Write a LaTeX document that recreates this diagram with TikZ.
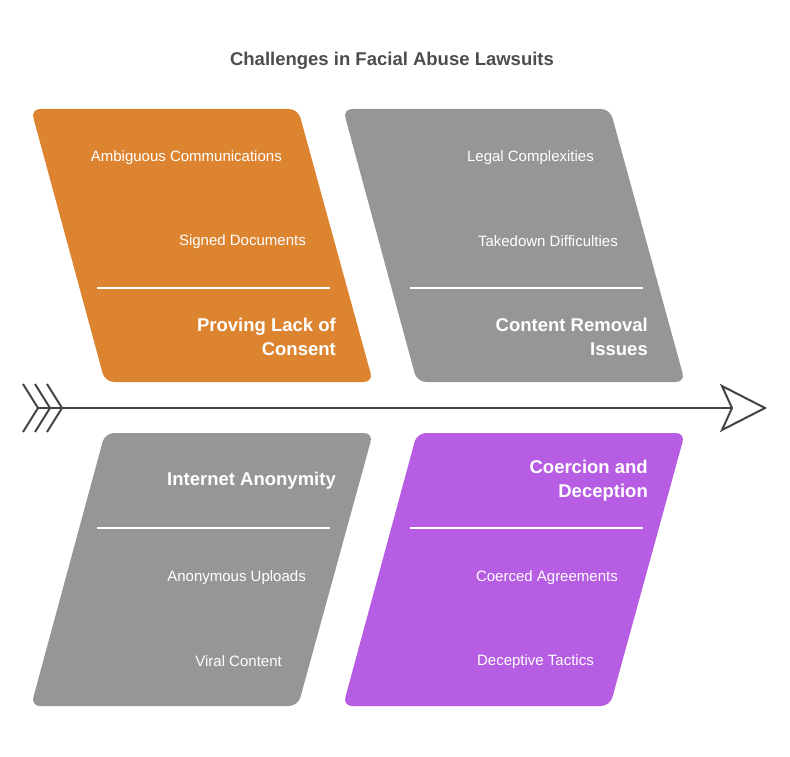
\documentclass[tikz,border=0pt]{standalone}
\usepackage{fontspec}
\setmainfont{Liberation Sans}
\definecolor{consent}{HTML}{DD8431}
\definecolor{removal}{HTML}{969696}
\definecolor{coercion}{HTML}{B75DE3}
\definecolor{axis}{HTML}{444444}
\begin{document}
\begin{tikzpicture}[x=1pt,y=-1pt,
    card/.style={rounded corners=9pt},
    cause/.style={font=\fontsize{15}{18}\selectfont, text=white, anchor=east, inner sep=0pt},
    head/.style={font=\bfseries\fontsize{18.5}{24}\selectfont, text=white, anchor=east, align=right, inner sep=0pt},
    rule/.style={draw=white, line width=1.3pt}]
    \useasboundingbox (0,0) rectangle (790,757);
    \node[font=\bfseries\fontsize{18.5}{22}\selectfont, text=axis!95] (title) at (392,61) {Challenges in Facial Abuse Lawsuits};

    % upper cards
    \fill[consent, card] (31,109) -- (298,109) -- (373,382) -- (105,382) -- cycle;
    \fill[removal, card] (343,109) -- (610,109) -- (685,382) -- (417,382) -- cycle;
    % lower cards
    \fill[removal, card] (105,433) -- (373,433) -- (298,706) -- (31,706) -- cycle;
    \fill[coercion, card] (417,433) -- (685,433) -- (610,706) -- (343,706) -- cycle;

    \draw[rule] (97,288) -- (330,288);
    \draw[rule] (410,288) -- (643,288);
    \draw[rule] (97,528) -- (330,528);
    \draw[rule] (410,528) -- (643,528);

    \node[cause] (ambig) at (282,157.5) {Ambiguous Communications};
    \node[cause] (signed) at (306,241.5) {Signed Documents};
    \node[head] (consentT) at (336,337) {Proving Lack of\\Consent};

    \node[cause] (legal) at (594,157.5) {Legal Complexities};
    \node[cause] (takedown) at (618,241.5) {Takedown Difficulties};
    \node[head] (removalT) at (648,337) {Content Removal\\Issues};

    \node[head] (anonT) at (336,481) {Internet Anonymity};
    \node[cause] (uploads) at (306,577.5) {Anonymous Uploads};
    \node[cause] (viral) at (282,661.5) {Viral Content};

    \node[head] (coercionT) at (648,481) {Coercion and\\Deception};
    \node[cause] (agree) at (618,577.5) {Coerced Agreements};
    \node[cause] (tactics) at (594,661.5) {Deceptive Tactics};

    % spine
    \coordinate (tail) at (38,408);
    \coordinate (tip) at (732,408);
    \draw[axis, line width=2pt] (tail) -- (tip);
    \foreach \dx in {0,12,24}
      \draw[axis, line width=2pt] (23+\dx,384) -- (38+\dx,408) -- (23+\dx,432);
    \draw[axis, line width=2pt, line join=miter] (tip) -- (722,386) -- (765,408) -- (722,430) -- cycle;
\end{tikzpicture}
\end{document}
